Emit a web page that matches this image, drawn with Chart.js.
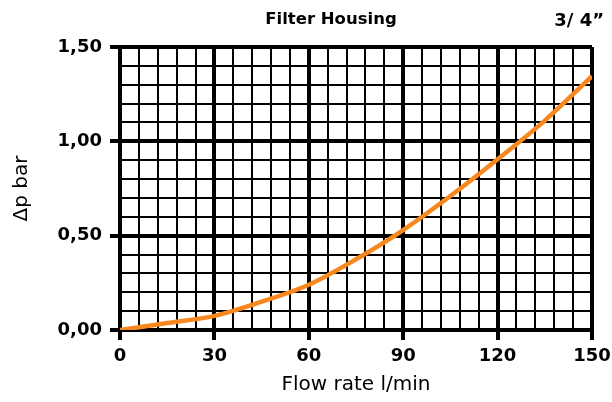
<!DOCTYPE html>
<html>
<head>
<meta charset="utf-8">
<script src="https://cdn.jsdelivr.net/npm/chart.js@4"></script>
<style>
  html, body { margin: 0; padding: 0; background: #fff; }
  .wrap { position: relative; width: 612px; height: 402px; }
  .title { position: absolute; top: 9px; left: 251px; width: 160px; text-align: center; line-height: 1;
    font: bold 16.5px "DejaVu Sans", sans-serif; color: #000; }
  .size { position: absolute; top: 9px; right: 8px; line-height: 1;
    font: bold 18px "DejaVu Sans", sans-serif; color: #000; }
</style>
</head>
<body>
<div class="wrap">
  <canvas id="chart" width="612" height="402"></canvas>
  <div class="title">Filter Housing</div>
  <div class="size">3/ 4”</div>
</div>
<script>
const flowRates = [0, 15, 30, 45, 60, 75, 90, 105, 120, 135, 150];
const pressureDrop = [0, 0.037, 0.075, 0.15, 0.24, 0.375, 0.53, 0.71, 0.905, 1.11, 1.345];
const xMajor = [0, 30, 60, 90, 120, 150];
const yMajor = [0, 0.5, 1.0, 1.5];

const ctx = document.getElementById("chart");
const tickFont = { family: "'DejaVu Sans', sans-serif", size: 18, weight: "bold" };
const titleFont = { family: "'DejaVu Sans', sans-serif", size: 20 };

const isMajor = (list, v) => list.some((m) => Math.abs(m - v) < 1e-6);

new Chart(ctx, {
  type: "line",
  data: {
    datasets: [
      {
        data: flowRates.map((x, i) => ({ x: x, y: pressureDrop[i] })),
        borderColor: "#f7871f",
        borderWidth: 4.5,
        pointRadius: 0,
        tension: 0.4,
        cubicInterpolationMode: "monotone",
        fill: false,
      },
    ],
  },
  options: {
    responsive: false,
    animation: false,
    devicePixelRatio: 1,
    layout: { padding: { top: 47, right: 20, left: 0, bottom: 0 } },
    plugins: { legend: { display: false }, tooltip: { enabled: false } },
    scales: {
      x: {
        type: "linear",
        min: 0,
        max: 150,
        afterFit: (s) => {
          s.height = 72;
          s.paddingLeft = 0;
          s.paddingRight = 0;
        },
        border: { color: "#000", width: 4 },
        grid: {
          color: "#000",
          lineWidth: (c) => (isMajor(xMajor, c.tick.value) ? 4 : 2),
          tickLength: 10,
          tickWidth: 4,
          tickColor: (c) => (isMajor(xMajor, c.tick.value) ? "#000" : "rgba(0,0,0,0)"),
        },
        ticks: {
          stepSize: 6,
          autoSkip: false,
          maxRotation: 0,
          color: "#000",
          font: tickFont,
          padding: 6,
          callback: (v) => (isMajor(xMajor, v) ? String(v) : ""),
        },
        title: {
          display: true,
          text: "Flow rate l/min",
          color: "#000",
          font: titleFont,
          padding: { top: 0, bottom: 5 },
        },
      },
      y: {
        min: 0,
        max: 1.5,
        afterFit: (s) => { s.width = 120; },
        border: { color: "#000", width: 4 },
        grid: {
          color: "#000",
          lineWidth: (c) => (isMajor(yMajor, c.tick.value) ? 4 : 2),
          tickLength: 10,
          tickWidth: 4,
          tickColor: (c) => (isMajor(yMajor, c.tick.value) ? "#000" : "rgba(0,0,0,0)"),
        },
        ticks: {
          stepSize: 0.1,
          autoSkip: false,
          color: "#000",
          font: tickFont,
          padding: 8,
          callback: (v) => (isMajor(yMajor, v) ? v.toFixed(2).replace(".", ",") : ""),
        },
        title: {
          display: true,
          text: "Δp bar",
          color: "#000",
          font: titleFont,
          padding: { top: 10, bottom: 0 },
        },
      },
    },
  },
});
</script>
</body>
</html>
